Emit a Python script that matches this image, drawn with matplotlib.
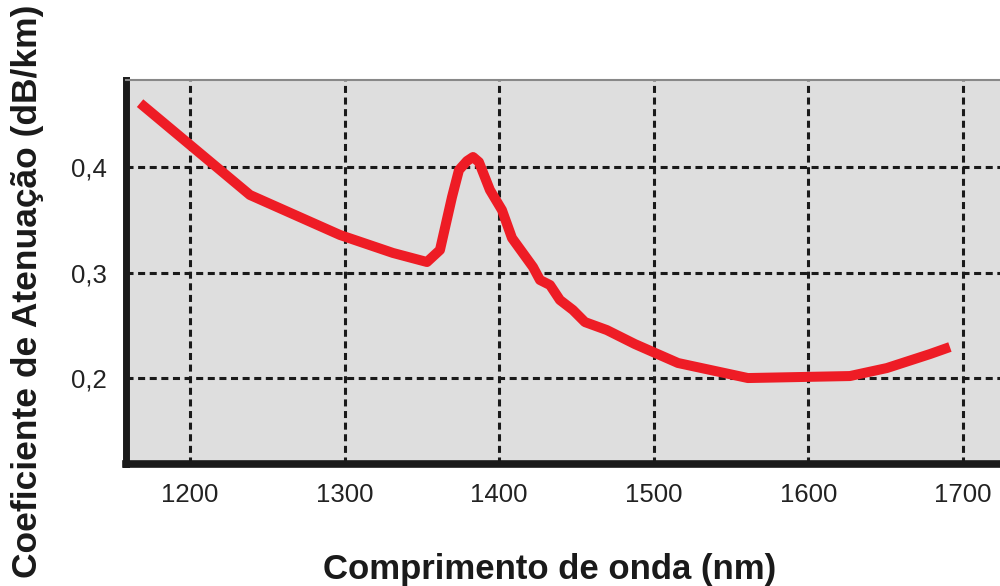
import matplotlib
matplotlib.use("Agg")
import matplotlib.pyplot as plt

wavelength = [1167.7, 1238.8, 1297.0, 1331.3, 1353.3, 1361.7, 1369.5, 1374.0, 1379.2,
              1383.1, 1386.9, 1394.0, 1401.8, 1408.3, 1421.9, 1426.4, 1432.9, 1439.3,
              1447.7, 1455.5, 1469.7, 1487.8, 1515.7, 1560.9, 1626.9, 1650.8, 1678.7, 1691.6]
attenuation = [0.461, 0.3737, 0.3357, 0.3186, 0.3100, 0.3214, 0.3718, 0.3974, 0.4060,
               0.4098, 0.4050, 0.3785, 0.3594, 0.3328, 0.3052, 0.2929, 0.2881, 0.2739,
               0.2644, 0.2529, 0.2453, 0.2320, 0.2140, 0.1997, 0.2016, 0.2092, 0.2225, 0.2292]
x_ticks = [1200, 1300, 1400, 1500, 1600, 1700]
x_tick_labels = ["1200", "1300", "1400", "1500", "1600", "1700"]
y_ticks = [0.2, 0.3, 0.4]
y_tick_labels = ["0,2", "0,3", "0,4"]

plt.rcParams['font.family'] = ['Liberation Sans', 'DejaVu Sans']

fig = plt.figure(figsize=(10, 5.86), dpi=100)
ax = fig.add_axes([0.126, 1 - 464 / 586, 1 - 0.126, (464 - 80) / 586])
ax.set_facecolor('#dedede')

ax.set_xlim(1158.6, 1724)
ax.set_ylim(0.118, 0.483)

ax.set_xticks(x_ticks)
ax.set_xticklabels(x_tick_labels)
ax.set_yticks(y_ticks)
ax.set_yticklabels(y_tick_labels)
ax.tick_params(axis='both', length=0, labelsize=18.5, colors='#222222')
ax.tick_params(axis='x', pad=14)
ax.tick_params(axis='y', pad=14)

ax.grid(True, color='#1a1a1a', linewidth=2.2, linestyle=(0, (2.3, 1.5)))
ax.set_axisbelow(True)

ax.plot(wavelength, attenuation, color='#ee1c25', linewidth=7.2,
        solid_joinstyle='round', solid_capstyle='butt', zorder=3)

ax.spines['right'].set_visible(False)
ax.spines['top'].set_color('#888888')
ax.spines['top'].set_linewidth(1.5)
ax.spines['left'].set_color('#1a1a1a')
ax.spines['left'].set_linewidth(5)
ax.spines['bottom'].set_color('#1a1a1a')
ax.spines['bottom'].set_linewidth(5.5)

fig.text(0.028, 1 - 291 / 586, 'Coeficiente de Atenuação (dB/km)', rotation=90,
         ha='center', va='center', fontsize=25.5, fontweight='bold', color='#1a1a1a')
fig.text(0.55, 1 - 570 / 586, 'Comprimento de onda (nm)', ha='center', va='center',
         fontsize=25, fontweight='bold', color='#1a1a1a')

fig.savefig('out.png', dpi=100)
